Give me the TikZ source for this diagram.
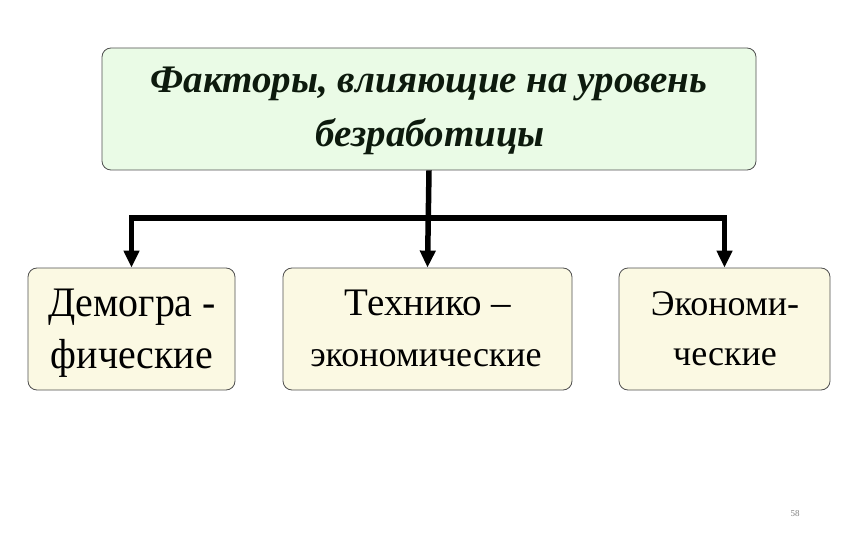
\documentclass[tikz,border=0pt]{standalone}
\usepackage{fontspec}
\setmainfont{Liberation Serif}
\newfontfamily\condserif[FakeStretch=0.95]{Liberation Serif}
\usetikzlibrary{arrows.meta}
\definecolor{topfill}{HTML}{EAFBE6}
\definecolor{boxfill}{HTML}{FBF9E3}
\definecolor{edge}{HTML}{505050}
\definecolor{titlecol}{HTML}{0D1A0D}
\tikzset{
  box/.style={draw=edge, line width=0.8pt, rounded corners=9pt, inner sep=0pt},
  lbl/.style={anchor=base, inner sep=0pt},
  conn/.style={line width=5.5pt, -{Triangle[length=17pt,width=15pt]}},
  connboth/.style={line width=5.5pt, {Triangle[length=17pt,width=15pt]}-{Triangle[length=17pt,width=15pt]}}
}
\begin{document}
\begin{tikzpicture}[x=1pt,y=-1pt]
\useasboundingbox[fill=white] (0,0) rectangle (851,540);
% boxes
\node[box, fill=topfill, minimum width=654pt, minimum height=122pt] (top) at (429,109) {};
\node[box, fill=boxfill, minimum width=207pt, minimum height=122pt] (d1) at (131.5,329) {};
\node[box, fill=boxfill, minimum width=289pt, minimum height=122pt] (d2) at (427.5,329) {};
\node[box, fill=boxfill, minimum width=211pt, minimum height=122pt] (d3) at (724.5,329) {};
% texts
\node[lbl, text=titlecol, font=\fontsize{39}{44}\selectfont\bfseries\itshape] (ta) at (429,93) {Факторы, влияющие на уровень};
\node[lbl, text=titlecol, font=\fontsize{39}{44}\selectfont\bfseries\itshape] (tb) at (430,147) {безработицы};
\node[lbl, font=\fontsize{42}{46}\condserif] (d1a) at (132,316) {Демогра -};
\node[lbl, font=\fontsize{42}{46}\condserif] (d1b) at (132,368) {фические};
\node[lbl, font=\fontsize{39}{44}\selectfont] (d2a) at (428,315) {Технико –};
\node[lbl, font=\fontsize{36}{40}\selectfont] (d2b) at (426,366) {экономические};
\node[lbl, font=\fontsize{36}{40}\selectfont] (d3a) at (725,315) {Экономи-};
\node[lbl, font=\fontsize{36}{40}\selectfont] (d3b) at (725,365) {ческие};
% connectors
\coordinate (j) at (429,218);
\draw[conn] (top.south) -- (d2.north);
\draw[connboth] (d1.north) |- (j) -| (d3.north);
\node[font=\fontsize{9}{10}\selectfont, text=gray] (pg) at (795,514) {58};
\end{tikzpicture}
\end{document}
